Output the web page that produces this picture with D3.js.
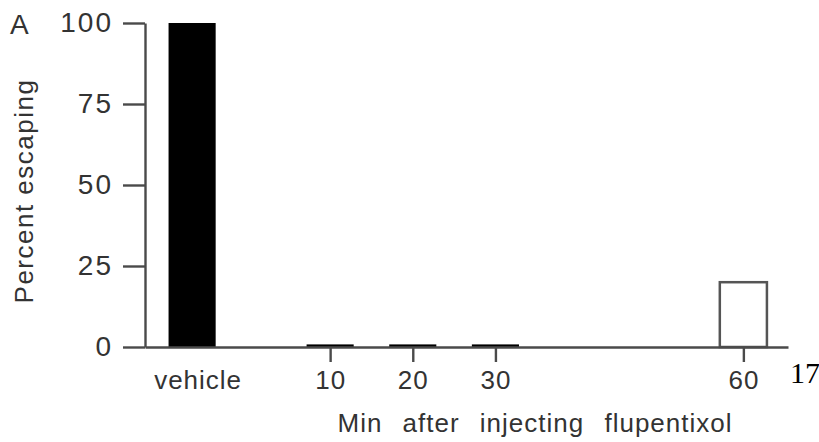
<!DOCTYPE html>
<html>
<head>
<meta charset="utf-8">
<script src="https://cdn.jsdelivr.net/npm/d3@7"></script>
<style>
  html, body { margin: 0; padding: 0; background: #fff; }
  svg { display: block; font-family: "Liberation Sans", Arial, sans-serif; }
</style>
</head>
<body>
<script>
// values
const groups = ["vehicle", "10", "20", "30", "60"];
const percentEscaping = [100, 0.8, 0.8, 0.8, 20];
const xTicks = [10, 20, 30, 60];
const yTicks = [0, 25, 50, 75, 100];

const width = 819, height = 442;
const ink = "#333";
const vehicleAt = -6.7;   // where the vehicle bar sits on the minutes axis
const barHalf = 2.85;     // half bar width, in minutes

const x = d3.scaleLinear().domain([-12.4, 65.4]).range([145, 788]);
const y = d3.scaleLinear().domain([0, 100]).range([347, 23]);
const pos = (g) => (g === "vehicle" ? vehicleAt : +g);

const svg = d3.select("body")
  .append("svg")
  .attr("width", width)
  .attr("height", height);

// bars
svg.append("g")
  .selectAll("rect")
  .data(groups)
  .join("rect")
  .attr("x", (g) => x(pos(g) - barHalf))
  .attr("width", (g) => x(pos(g) + barHalf) - x(pos(g) - barHalf))
  .attr("y", (g, i) => y(percentEscaping[i]))
  .attr("height", (g, i) => y(0) - y(percentEscaping[i]))
  .attr("fill", (g) => (g === "60" ? "#fff" : "#000"))
  .attr("stroke", (g) => (g === "60" ? "#555" : "none"))
  .attr("stroke-width", 2.5);

// y axis
const yAxis = svg.append("g")
  .attr("transform", `translate(${x.range()[0]},0)`)
  .call(d3.axisLeft(y).tickValues(yTicks).tickSize(22).tickSizeOuter(0).tickPadding(10));
yAxis.selectAll("path, line").attr("stroke", "#4a4a4a").attr("stroke-width", 2.4);
yAxis.selectAll("text")
  .attr("fill", ink)
  .style("font-size", "28px")
  .style("letter-spacing", "2px");

// x axis
const xAxis = svg.append("g")
  .attr("transform", `translate(0,${y(0)})`)
  .call(d3.axisBottom(x).tickValues(xTicks).tickSize(15).tickSizeOuter(0));
xAxis.selectAll("path, line").attr("stroke", "#4a4a4a").attr("stroke-width", 2.4);
xAxis.selectAll("text")
  .attr("y", 42)
  .attr("dy", 0)
  .attr("fill", ink)
  .style("font-size", "26px")
  .style("letter-spacing", "1px");
xAxis.select(".domain").lower();

// vehicle label (no tick)
svg.append("text")
  .attr("x", x(vehicleAt) + 6)
  .attr("y", y(0) + 42)
  .attr("text-anchor", "middle")
  .attr("fill", ink)
  .style("font-size", "26px")
  .style("letter-spacing", "1px")
  .text("vehicle");

// axis titles
svg.append("text")
  .attr("transform", "translate(33,191) rotate(-90)")
  .attr("text-anchor", "middle")
  .attr("fill", ink)
  .style("font-size", "26px")
  .style("letter-spacing", "1.5px")
  .text("Percent escaping");

svg.append("text")
  .attr("x", 535)
  .attr("y", 432)
  .attr("text-anchor", "middle")
  .attr("fill", ink)
  .style("font-size", "26px")
  .style("letter-spacing", "1px")
  .style("word-spacing", "12px")
  .text("Min after injecting flupentixol");

svg.append("text")
  .attr("x", 10)
  .attr("y", 34)
  .attr("fill", ink)
  .style("font-size", "28px")
  .text("A");

svg.append("text")
  .attr("x", 790)
  .attr("y", 383)
  .attr("fill", "#000")
  .style("font-family", "'Liberation Serif', 'Times New Roman', serif")
  .style("font-size", "30px")
  .text("17");
</script>
</body>
</html>
